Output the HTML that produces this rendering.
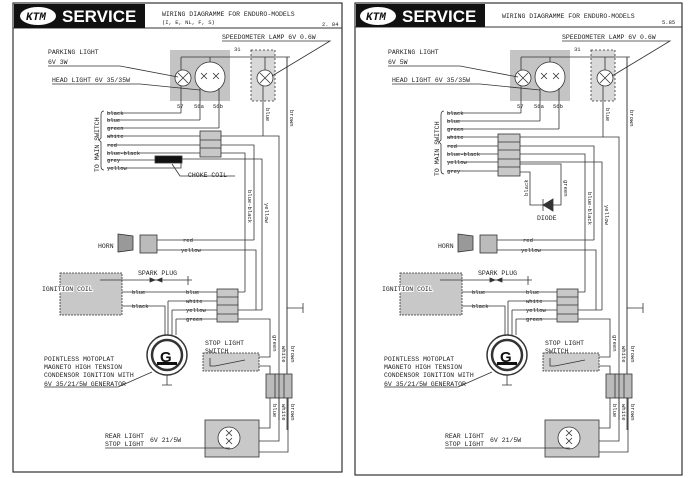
<!DOCTYPE html>
<html><head><meta charset="utf-8"><style>
html,body{margin:0;padding:0;background:#fff;}
svg{display:block}
text{font-family:"Liberation Mono",monospace;fill:#222;}
.t{font-size:6.5px}
.s{font-size:5.5px}
</style></head><body>
<svg width="700" height="478" viewBox="0 0 700 478" xmlns="http://www.w3.org/2000/svg">
<rect width="700" height="478" fill="#fff"/>
<g fill="none" stroke="#333" stroke-width="0.8">

<!-- ============ LEFT PAGE ============ -->
<rect x="13" y="3" width="329" height="469" stroke-width="1.2"/>
<line x1="13" y1="28" x2="342" y2="28" stroke-width="1"/>
<rect x="14" y="4" width="131" height="24" fill="#111" stroke="none"/>
<rect x="170" y="50" width="60" height="51" fill="#c4c4c4" stroke="none"/>
<rect x="251" y="50" width="24" height="51" fill="#d8d8d8" stroke-dasharray="2,2"/>
<line x1="181" y1="57" x2="290" y2="57"/>
<line x1="181" y1="57" x2="181" y2="70"/><line x1="210" y1="57" x2="210" y2="62"/>
<line x1="265" y1="57" x2="265" y2="70"/>
<circle cx="183" cy="78" r="8" fill="#fff"/>
<circle cx="210" cy="77" r="15" fill="#fff"/>
<circle cx="265" cy="78" r="8" fill="#fff"/>
<path d="M178 73l10 10M188 73l-10 10M260 73l10 10M270 73l-10 10M201 73l6 6M207 73l-6 6M213 73l6 6M219 73l-6 6"/>
<line x1="181" y1="86" x2="181" y2="113"/><line x1="200" y1="88" x2="200" y2="120"/><line x1="219" y1="88" x2="219" y2="128"/>
<line x1="263" y1="86" x2="263" y2="132"/>
<path d="M48 66H120L178 77M52 84H140L200 90M222 41H330L272 76"/>
<path d="M107 113H181M107 120H200M107 128H219M107 136H200M107 145H200M107 153H200M107 160H155M107 168H181V163"/>
<path d="M104 111q-3 0-3 4v23l-2 2 2 2v24q0 4 3 4"/>
<rect x="200" y="131" width="21" height="26" fill="#c8c8c8"/>
<line x1="200" y1="140" x2="221" y2="140"/><line x1="200" y1="148" x2="221" y2="148"/>
<rect x="155" y="156" width="27" height="7" fill="#111"/>
<path d="M172 164L180 176H235"/>
<path d="M221 136H279V420M263 132V136M221 145H254V240M221 153H245V292M182 159H262V310M287 57V430M238 292H245M238 310H262"/>
<path d="M118 234L133 236V250L118 252Z" fill="#999"/>
<rect x="140" y="235" width="17" height="18" fill="#bbb"/>
<path d="M157 240H254M157 250H256V310"/>
<rect x="60" y="273" width="62" height="42" fill="#c8c8c8" stroke-dasharray="2,1"/>
<path d="M100 280H192M188 276V285M122 292H217M122 306H165V335M168 301H217M172 310H217M176 319H217M168 301V335M172 310V335M176 319V335"/>
<path d="M150 278l5 2-5 2zM162 278l-5 2 5 2z" fill="#333"/>
<rect x="217" y="289" width="21" height="33" fill="#c8c8c8"/>
<path d="M217 297H238M217 305H238M217 314H238"/>
<path d="M238 319H270V357H259M259 366H270V374"/>
<path d="M287 308H303M303 303V313"/>
<circle cx="167" cy="355" r="20" fill="#fff" stroke-width="1.5"/>
<circle cx="167" cy="355" r="15" fill="#fff" stroke-width="2.5"/>
<path d="M167 375V385M162 385H172"/>
<rect x="157" y="362" width="20" height="3" fill="#111" stroke="none"/>
<path d="M44 387H118L152 372"/>
<rect x="203" y="353" width="56" height="18" fill="#ccc" stroke-dasharray="2,1"/>
<path d="M210 358V366H215L245 360"/>
<rect x="266" y="374" width="26" height="24" fill="#bbb"/>
<path d="M275 374V398M284 374V398M279 420V374M288 430V398M287 57V374"/>
<rect x="205" y="420" width="54" height="37" fill="#c8c8c8"/>
<circle cx="229" cy="438" r="11" fill="#fff"/>
<path d="M226 430l6 6M232 430l-6 6M226 438l6 6M232 438l-6 6"/>
<path d="M259 428H270V398M259 441H279V398M259 452H288V398M105 448H230"/>

<!-- ============ RIGHT PAGE ============ -->
<rect x="355" y="3" width="327" height="472" stroke-width="1.2"/>
<line x1="355" y1="27" x2="682" y2="27" stroke-width="1"/>
<rect x="356" y="4" width="129" height="23" fill="#111" stroke="none"/>
<g transform="translate(340,0)">
<rect x="170" y="50" width="60" height="51" fill="#c4c4c4" stroke="none"/>
<rect x="251" y="50" width="24" height="51" fill="#d8d8d8" stroke-dasharray="2,2"/>
<line x1="181" y1="57" x2="290" y2="57"/>
<line x1="181" y1="57" x2="181" y2="70"/><line x1="210" y1="57" x2="210" y2="62"/>
<line x1="265" y1="57" x2="265" y2="70"/>
<circle cx="183" cy="78" r="8" fill="#fff"/>
<circle cx="210" cy="77" r="15" fill="#fff"/>
<circle cx="265" cy="78" r="8" fill="#fff"/>
<path d="M178 73l10 10M188 73l-10 10M260 73l10 10M270 73l-10 10M201 73l6 6M207 73l-6 6M213 73l6 6M219 73l-6 6"/>
<line x1="181" y1="86" x2="181" y2="113"/><line x1="200" y1="88" x2="200" y2="121"/><line x1="219" y1="88" x2="219" y2="129"/>
<line x1="263" y1="86" x2="263" y2="133"/>
<path d="M48 66H120L178 77M52 84H140L200 90M222 41H330L272 76"/>
<path d="M107 113H181M107 121H200M107 129H219M107 137H158M107 146H158M107 154H158M107 162H158M107 171H158"/>
<path d="M104 111q-3 0-3 4v25l-2 2 2 2v26q0 4 3 4"/>
<rect x="158" y="134" width="22" height="42" fill="#c8c8c8"/>
<path d="M158 142H180M158 150H180M158 159H180M158 167H180"/>
<path d="M180 172H190V205H203M213 205H221V164H180"/>
<path d="M203 199V211M213 199L203 205L213 211Z" fill="#333"/>
<path d="M180 137H279V420M263 133V137M180 146H254V240M180 154H245V292M180 162H262V310M287 57V430M238 292H245M238 310H262"/>
<path d="M118 234L133 236V250L118 252Z" fill="#999"/>
<rect x="140" y="235" width="17" height="18" fill="#bbb"/>
<path d="M157 240H254M157 250H256V310"/>
<rect x="60" y="273" width="62" height="42" fill="#c8c8c8" stroke-dasharray="2,1"/>
<path d="M100 280H192M188 276V285M122 292H217M122 306H165V335M168 301H217M172 310H217M176 319H217M168 301V335M172 310V335M176 319V335"/>
<path d="M150 278l5 2-5 2zM162 278l-5 2 5 2z" fill="#333"/>
<rect x="217" y="289" width="21" height="33" fill="#c8c8c8"/>
<path d="M217 297H238M217 305H238M217 314H238"/>
<path d="M238 319H270V357H259M259 366H270V374"/>
<path d="M287 308H303M303 303V313"/>
<circle cx="167" cy="355" r="20" fill="#fff" stroke-width="1.5"/>
<circle cx="167" cy="355" r="15" fill="#fff" stroke-width="2.5"/>
<path d="M167 375V385M162 385H172"/>
<rect x="157" y="362" width="20" height="3" fill="#111" stroke="none"/>
<path d="M44 387H118L152 372"/>
<rect x="203" y="353" width="56" height="18" fill="#ccc" stroke-dasharray="2,1"/>
<path d="M210 358V366H215L245 360"/>
<rect x="266" y="374" width="26" height="24" fill="#bbb"/>
<path d="M275 374V398M284 374V398M279 420V374M288 430V398M287 57V374"/>
<rect x="205" y="420" width="54" height="37" fill="#c8c8c8"/>
<circle cx="229" cy="438" r="11" fill="#fff"/>
<path d="M226 430l6 6M232 430l-6 6M226 438l6 6M232 438l-6 6"/>
<path d="M259 428H270V398M259 441H279V398M259 452H288V398M105 448H230"/>
</g>
</g>

<!-- ============ TEXT LEFT ============ -->
<g>
<ellipse cx="38" cy="16" rx="18" ry="9" fill="#fff"/>
<text x="26" y="20" style="font-size:11px;font-weight:bold;font-style:italic;fill:#111">KTM</text>
<text x="62" y="22" style="font-family:'Liberation Sans',sans-serif;font-size:17px;font-weight:bold;fill:#fff">SERVICE</text>
<text x="162" y="16" class="t">WIRING DIAGRAMME FOR ENDURO-MODELS</text>
<text x="162" y="24" class="s">(I, E, NL, F, S)</text>
<text x="322" y="26" class="s">2. 84</text>
<text x="222" y="39" class="t">SPEEDOMETER LAMP 6V 0.6W</text>
<text x="48" y="54" class="t">PARKING LIGHT</text>
<text x="48" y="64" class="t">6V 3W</text>
<text x="52" y="82" class="t">HEAD LIGHT 6V 35/35W</text>
<text x="234" y="51" class="s">31</text>
<text x="177" y="108" class="s">57</text><text x="194" y="108" class="s">56a</text><text x="213" y="108" class="s">56b</text>
<text x="107" y="115" class="s">black</text><text x="107" y="122" class="s">blue</text><text x="107" y="130" class="s">green</text><text x="107" y="138" class="s">white</text>
<text x="107" y="147" class="s">red</text><text x="107" y="155" class="s">blue-black</text><text x="107" y="162" class="s">grey</text><text x="107" y="170" class="s">yellow</text>
<text x="99" y="172" class="t" transform="rotate(-90 99 172)">TO MAIN SWITCH</text>
<text x="188" y="177" class="t">CHOKE COIL</text>
<text x="266" y="108" class="s" transform="rotate(90 266 108)">blue</text>
<text x="290" y="110" class="s" transform="rotate(90 290 110)">brown</text>
<text x="248" y="190" class="s" transform="rotate(90 248 190)">blue-black</text>
<text x="265" y="203" class="s" transform="rotate(90 265 203)">yellow</text>
<text x="98" y="248" class="t">HORN</text>
<text x="183" y="242" class="s">red</text><text x="181" y="252" class="s">yellow</text>
<text x="138" y="275" class="t">SPARK PLUG</text>
<text x="42" y="291" class="t" style="paint-order:stroke;stroke:#fff;stroke-width:2px">IGNITION COIL</text>
<text x="132" y="294" class="s">blue</text><text x="132" y="308" class="s">black</text>
<text x="186" y="294" class="s">blue</text><text x="186" y="303" class="s">white</text><text x="186" y="312" class="s">yellow</text><text x="186" y="321" class="s">green</text>
<text x="160" y="362" style="font-family:'Liberation Sans',sans-serif;font-size:15px;font-weight:bold;fill:#111">G</text>
<text x="205" y="345" class="t">STOP LIGHT</text><text x="205" y="353" class="t">SWITCH</text>
<text x="44" y="361" class="t">POINTLESS MOTOPLAT</text>
<text x="44" y="369" class="t">MAGNETO HIGH TENSION</text>
<text x="44" y="377" class="t">CONDENSOR IGNITION WITH</text>
<text x="44" y="386" class="t">6V 35/21/5W GENERATOR</text>
<text x="273" y="335" class="s" transform="rotate(90 273 335)">green</text>
<text x="282" y="346" class="s" transform="rotate(90 282 346)">white</text>
<text x="291" y="346" class="s" transform="rotate(90 291 346)">brown</text>
<text x="273" y="404" class="s" transform="rotate(90 273 404)">blue</text>
<text x="282" y="404" class="s" transform="rotate(90 282 404)">white</text>
<text x="291" y="404" class="s" transform="rotate(90 291 404)">brown</text>
<text x="105" y="438" class="t">REAR LIGHT</text><text x="105" y="446" class="t">STOP LIGHT</text>
<text x="150" y="442" class="t">6V 21/5W</text>
</g>

<!-- ============ TEXT RIGHT ============ -->
<g transform="translate(340,0)">
<ellipse cx="38" cy="16" rx="18" ry="9" fill="#fff"/>
<text x="26" y="20" style="font-size:11px;font-weight:bold;font-style:italic;fill:#111">KTM</text>
<text x="62" y="22" style="font-family:'Liberation Sans',sans-serif;font-size:17px;font-weight:bold;fill:#fff">SERVICE</text>
<text x="162" y="18" class="t">WIRING DIAGRAMME FOR ENDURO-MODELS</text>
<text x="322" y="24" class="s">5.85</text>
<text x="222" y="39" class="t">SPEEDOMETER LAMP 6V 0.6W</text>
<text x="48" y="54" class="t">PARKING LIGHT</text>
<text x="48" y="64" class="t">6V 5W</text>
<text x="52" y="82" class="t">HEAD LIGHT 6V 35/35W</text>
<text x="234" y="51" class="s">31</text>
<text x="177" y="108" class="s">57</text><text x="194" y="108" class="s">56a</text><text x="213" y="108" class="s">56b</text>
<text x="107" y="115" class="s">black</text><text x="107" y="123" class="s">blue</text><text x="107" y="131" class="s">green</text><text x="107" y="139" class="s">white</text>
<text x="107" y="148" class="s">red</text><text x="107" y="156" class="s">blue-black</text><text x="107" y="164" class="s">yellow</text><text x="107" y="173" class="s">grey</text>
<text x="99" y="176" class="t" transform="rotate(-90 99 176)">TO MAIN SWITCH</text>
<text x="188" y="196" class="s" transform="rotate(-90 188 196)">black</text>
<text x="224" y="180" class="s" transform="rotate(90 224 180)">green</text>
<text x="197" y="220" class="t">DIODE</text>
<text x="266" y="108" class="s" transform="rotate(90 266 108)">blue</text>
<text x="290" y="110" class="s" transform="rotate(90 290 110)">brown</text>
<text x="248" y="192" class="s" transform="rotate(90 248 192)">blue-black</text>
<text x="265" y="205" class="s" transform="rotate(90 265 205)">yellow</text>
<text x="98" y="248" class="t">HORN</text>
<text x="183" y="242" class="s">red</text><text x="181" y="252" class="s">yellow</text>
<text x="138" y="275" class="t">SPARK PLUG</text>
<text x="42" y="291" class="t" style="paint-order:stroke;stroke:#fff;stroke-width:2px">IGNITION COIL</text>
<text x="132" y="294" class="s">blue</text><text x="132" y="308" class="s">black</text>
<text x="186" y="294" class="s">blue</text><text x="186" y="303" class="s">white</text><text x="186" y="312" class="s">yellow</text><text x="186" y="321" class="s">green</text>
<text x="160" y="362" style="font-family:'Liberation Sans',sans-serif;font-size:15px;font-weight:bold;fill:#111">G</text>
<text x="205" y="345" class="t">STOP LIGHT</text><text x="205" y="353" class="t">SWITCH</text>
<text x="44" y="361" class="t">POINTLESS MOTOPLAT</text>
<text x="44" y="369" class="t">MAGNETO HIGH TENSION</text>
<text x="44" y="377" class="t">CONDENSOR IGNITION WITH</text>
<text x="44" y="386" class="t">6V 35/21/5W GENERATOR</text>
<text x="273" y="335" class="s" transform="rotate(90 273 335)">green</text>
<text x="282" y="346" class="s" transform="rotate(90 282 346)">white</text>
<text x="291" y="346" class="s" transform="rotate(90 291 346)">brown</text>
<text x="273" y="404" class="s" transform="rotate(90 273 404)">blue</text>
<text x="282" y="404" class="s" transform="rotate(90 282 404)">white</text>
<text x="291" y="404" class="s" transform="rotate(90 291 404)">brown</text>
<text x="105" y="438" class="t">REAR LIGHT</text><text x="105" y="446" class="t">STOP LIGHT</text>
<text x="150" y="442" class="t">6V 21/5W</text>
</g>
</svg>
</body></html>
